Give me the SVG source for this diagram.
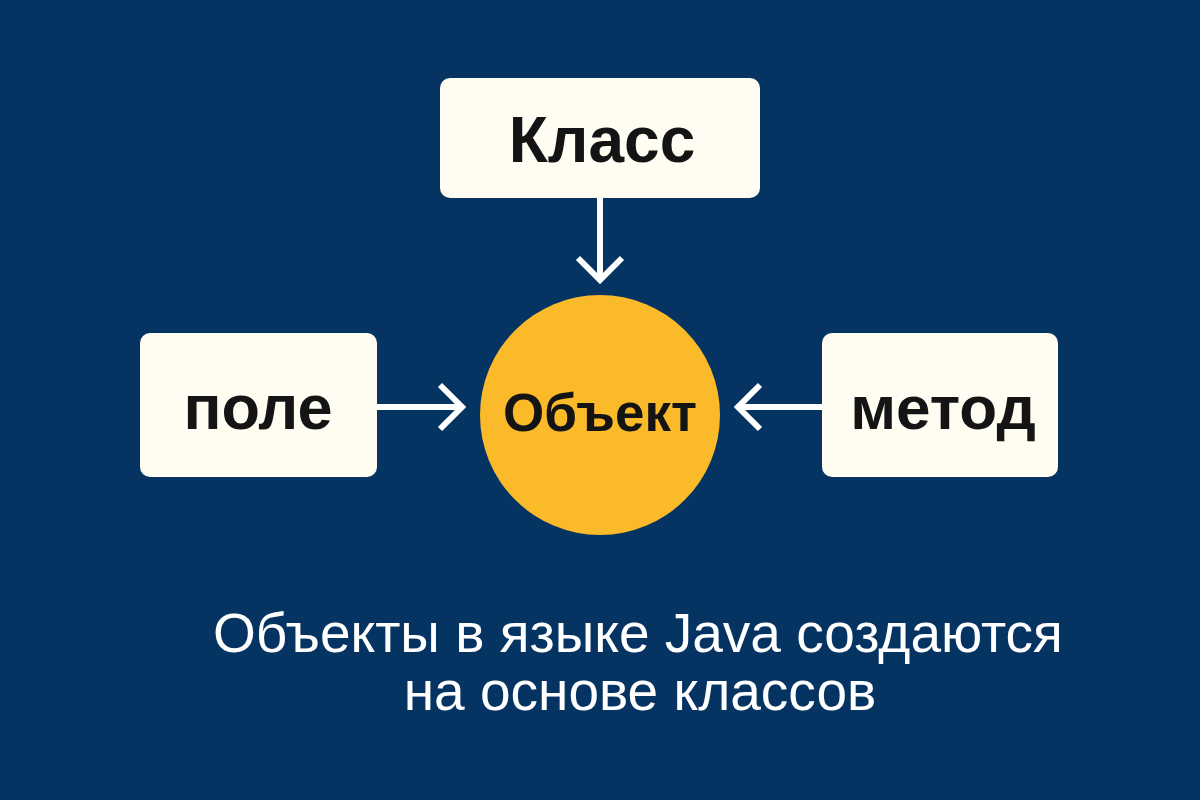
<svg xmlns="http://www.w3.org/2000/svg" width="1200" height="800" viewBox="0 0 1200 800">
<style>
.box{fill:#FFFCF2}
.t{font-family:"Liberation Sans",Arial,sans-serif;font-weight:bold;fill:#141414;text-anchor:middle;dominant-baseline:central}
.c{font-family:"Liberation Sans",Arial,sans-serif;fill:#fff;text-anchor:middle;font-size:55px}
.ln{stroke:#fff;stroke-width:6;fill:none;stroke-linecap:butt}
</style>
<rect width="1200" height="800" fill="#053463"/>
<g id="connectors">
<path class="ln" d="M600 198V280M578 258L600 280L622 258"/>
<path class="ln" d="M377 407H462M440 385L462 407L440 429"/>
<path class="ln" d="M822 407H738M760 385L738 407L760 429"/>
</g>
<g id="klass"><rect class="box" x="440" y="78" width="320" height="120" rx="10"/><text class="t" x="602" y="140" font-size="64">Класс</text></g>
<g id="pole"><rect class="box" x="140" y="333" width="237" height="144" rx="10"/><text class="t" x="258" y="407" font-size="63">поле</text></g>
<g id="metod"><rect class="box" x="822" y="333" width="236" height="144" rx="10"/><text class="t" x="943" y="407" font-size="62">метод</text></g>
<g id="obj"><circle cx="600" cy="415" r="120" fill="#FBBA2A"/><text class="t" x="600" y="412" font-size="53">Объект</text></g>
<g id="caption"><text class="c" x="638" y="652">Объекты в языке Java создаются</text><text class="c" x="640" y="710">на основе классов</text></g>
</svg>
